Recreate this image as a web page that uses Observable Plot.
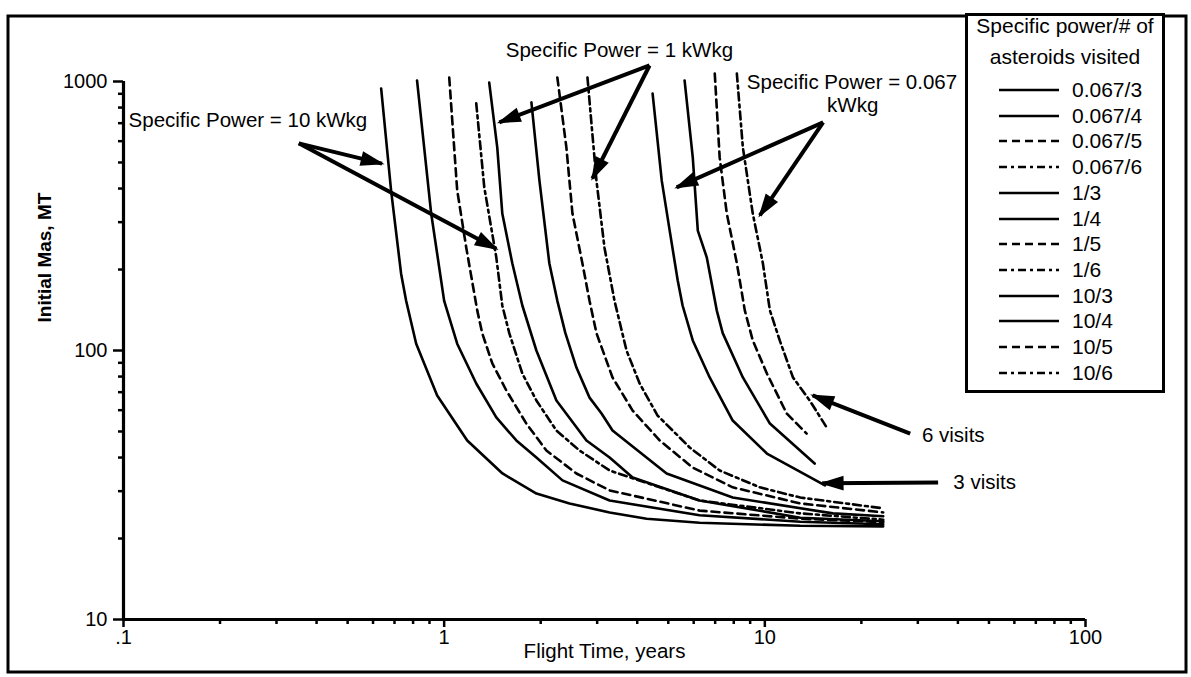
<!DOCTYPE html>
<html><head><meta charset="utf-8">
<script src="https://cdn.jsdelivr.net/npm/d3@7"></script>
<script src="https://cdn.jsdelivr.net/npm/@observablehq/plot@0.6"></script>
<style>
body{margin:0;background:#fff;font-family:"Liberation Sans",Arial,sans-serif;}
#wrap{position:relative;width:1191px;height:677px;overflow:hidden;}
#legend{position:absolute;left:965px;top:13px;width:194px;height:374px;border:3px solid #000;background:#fff;color:#000;}
#legend .title{position:absolute;left:0;width:100%;text-align:center;font-size:21px;line-height:24px;white-space:nowrap;}
#legend .row{position:absolute;left:0;width:100%;height:24px;}
#legend .row svg{position:absolute;left:30px;top:0;}
#legend .row span{position:absolute;left:104px;top:0;font-size:21px;line-height:24px;}
</style></head><body><div id="wrap"></div>
<script>
// ---- Series (flight time in years, initial mass in MT) ----
const seriesKeys = ["0.067/3","0.067/4","0.067/5","0.067/6","1/3","1/4","1/5","1/6","10/3","10/4","10/5","10/6"];

const time_10_3 = [0.636, 0.683, 0.734, 0.761, 0.818, 0.951, 1.18, 1.52, 1.94, 2.46, 3.28, 4.28, 6.26, 12.9, 23.4];
const mass_10_3 = [942, 394, 193, 153, 106, 68, 46.3, 34.9, 29.4, 27.0, 25.0, 23.7, 22.9, 22.3, 22.2];
const time_10_4 = [0.823, 0.911, 1.0, 1.098, 1.259, 1.454, 1.679, 1.939, 2.339, 3.28, 6.26, 12.9, 23.4];
const mass_10_4 = [1009, 323, 153, 106, 75.4, 56.4, 46.3, 40.0, 32.9, 27.7, 24.4, 23.1, 22.6];
const time_10_5 = [1.037, 1.098, 1.172, 1.268, 1.314, 1.413, 1.563, 1.804, 2.083, 2.585, 3.28, 6.26, 12.9, 23.4];
const mass_10_5 = [1035, 394, 241, 141, 116, 89.5, 71.0, 53.5, 42.5, 34.9, 30.2, 25.4, 23.7, 23.0];
const time_10_6 = [1.259, 1.334, 1.454, 1.518, 1.596, 1.753, 1.939, 2.239, 2.642, 3.28, 6.26, 12.9, 23.4];
const mass_10_6 = [829, 404, 222, 147, 116, 82.1, 65.2, 50.4, 42.5, 35.8, 27.7, 24.8, 23.5];
const time_1_3 = [1.382, 1.464, 1.518, 1.631, 1.753, 1.939, 2.239, 2.778, 3.28, 3.87, 6.26, 12.9, 23.4];
const mass_1_3 = [991, 569, 323, 211, 147, 100, 65.2, 46.3, 40.0, 33.7, 27.7, 23.9, 23.2];
const time_1_4 = [1.871, 1.982, 2.128, 2.254, 2.388, 2.585, 2.840, 3.096, 3.350, 4.94, 7.94, 16.3, 23.4];
const mass_1_4 = [836, 428, 211, 153, 116, 86.4, 66.8, 58.3, 50.4, 34.9, 28.4, 24.8, 24.2];
const time_1_5 = [2.254, 2.405, 2.512, 2.698, 2.840, 2.985, 3.350, 3.87, 4.70, 5.96, 7.94, 12.9, 23.4];
const mass_1_5 = [1035, 569, 323, 211, 153, 116, 79.4, 59.8, 46.3, 36.7, 31.0, 27.0, 25.0];
const time_1_6 = [2.798, 2.985, 3.162, 3.398, 3.704, 4.07, 4.63, 5.83, 7.23, 9.65, 12.9, 23.4];
const mass_1_6 = [1035, 428, 241, 153, 100, 75.4, 57.3, 43.6, 35.8, 31.0, 28.4, 25.9];
const time_067_3 = [4.467, 4.77, 5.05, 5.35, 5.54, 5.96, 6.73, 7.94, 10.15, 15.4];
const mass_067_3 = [902, 428, 279, 182, 147, 109, 79.4, 54.9, 41.4, 31.5];
const time_067_4 = [5.62, 5.96, 6.18, 6.59, 7.08, 7.39, 8.54, 10.37, 14.3];
const mass_067_4 = [1009, 522, 279, 222, 141, 116, 79.4, 53.5, 38.0];
const time_067_5 = [6.98, 7.23, 7.61, 8.18, 8.66, 9.17, 10.15, 11.7, 13.5];
const mass_067_5 = [1070, 522, 323, 211, 141, 109, 82.1, 58.3, 49.1];
const time_067_6 = [8.18, 8.54, 9.17, 9.86, 10.37, 11.13, 12.24, 13.8, 15.6];
const mass_067_6 = [1070, 569, 323, 211, 141, 109, 79.4, 65.2, 51.7];

// ---- Axis ticks ----
const xMajor = [0.1, 1, 10, 100];
const xMajorLabels = [".1", "1", "10", "100"];
const xMinor = [0.2,0.3,0.4,0.5,0.6,0.7,0.8,0.9,2,3,4,5,6,7,8,9,20,30,40,50,60,70,80,90];
const yMajor = [10, 100, 1000];
const yMajorLabels = ["10", "100", "1000"];
const yMinor = [20,30,40,50,60,70,80,90,200,300,400,500,600,700,800,900];

// ---- Annotations ----
const noteText = ["Specific Power = 10 kWkg", "Specific Power = 1 kWkg", "Specific Power = 0.067", "kWkg", "6 visits", "3 visits"];
const noteX = [0.1037, 3.52, 8.79, 18.8, 30.9, 38.7];
const noteY = [716, 1304, 996, 815, 48.3, 32.3];
const noteAnchor = ["start", "middle", "start", "middle", "start", "start"];

const arrowX1 = [0.352, 0.352, 4.37, 4.37, 15.2, 15.2, 28.4, 34.7];
const arrowY1 = [589, 589, 1147, 1147, 705, 705, 49.1, 32.3];
const arrowX2 = [0.640, 1.454, 1.486, 2.900, 5.31, 9.65, 14.1, 15.1];
const arrowY2 = [495, 239, 705, 436, 404, 318, 68.1, 32.1];

// ---- build tables ----
const curveData = {
  "10/3": [time_10_3, mass_10_3], "10/4": [time_10_4, mass_10_4], "10/5": [time_10_5, mass_10_5], "10/6": [time_10_6, mass_10_6],
  "1/3": [time_1_3, mass_1_3], "1/4": [time_1_4, mass_1_4], "1/5": [time_1_5, mass_1_5], "1/6": [time_1_6, mass_1_6],
  "0.067/3": [time_067_3, mass_067_3], "0.067/4": [time_067_4, mass_067_4], "0.067/5": [time_067_5, mass_067_5], "0.067/6": [time_067_6, mass_067_6]
};
const styleOf = k => { const v = k.split("/")[1]; return v === "5" ? "dashed" : v === "6" ? "dashdot" : "solid"; };
const dashOf = {solid: null, dashed: "8,5", dashdot: "8,4,3,4"};
const rows = [];
for (const k of seriesKeys) {
  const [t, m] = curveData[k];
  t.forEach((tv, i) => rows.push({series: k, style: styleOf(k), time: tv, mass: m[i]}));
}
const notes = noteText.map((t, i) => ({text: t, x: noteX[i], y: noteY[i], anchor: noteAnchor[i]}));
const arrows = arrowX1.map((x1, i) => ({x1, y1: arrowY1[i], x2: arrowX2[i], y2: arrowY2[i]}));
const xLab = new Map(xMajor.map((d, i) => [d, xMajorLabels[i]]));
const yLab = new Map(yMajor.map((d, i) => [d, yMajorLabels[i]]));

const lineMarks = ["solid", "dashed", "dashdot"].map(s =>
  Plot.line(rows.filter(r => r.style === s), {x: "time", y: "mass", z: "series", stroke: "#000", strokeWidth: 2.6,
    strokeDasharray: dashOf[s] ?? undefined, strokeLinejoin: "round"}));
const textMarks = ["start", "middle", "end"].map(a =>
  Plot.text(notes.filter(n => n.anchor === a), {x: "x", y: "y", text: "text", textAnchor: a, fontSize: 20.5, fill: "#000"}));

const chart = Plot.plot({
  width: 1191, height: 677,
  marginLeft: 123, marginRight: 106, marginTop: 81, marginBottom: 58,
  x: {type: "log", domain: [0.1, 100]},
  y: {type: "log", domain: [10, 1000]},
  style: {fontFamily: "'Liberation Sans', Arial, sans-serif", fontSize: "20px", color: "#000", background: "#fff", overflow: "visible"},
  marks: [
    Plot.axisX(xMinor, {tickSize: 5, tickFormat: () => "", label: null, strokeWidth: 2.5}),
    Plot.axisX(xMajor, {tickSize: 8, tickPadding: 2, tickFormat: d => xLab.get(d), label: null, strokeWidth: 2.5, fontSize: 20}),
    Plot.axisY(yMinor, {tickSize: 5, tickFormat: () => "", label: null, strokeWidth: 2.5}),
    Plot.axisY(yMajor, {tickSize: 10, tickPadding: 6, tickFormat: d => yLab.get(d), label: null, strokeWidth: 2.5, fontSize: 20}),
    Plot.ruleX([0.1], {strokeWidth: 3.2}),
    Plot.ruleY([10], {strokeWidth: 3.2}),
    ...lineMarks,
    Plot.link(arrows, {x1: "x1", y1: "y1", x2: "x2", y2: "y2", stroke: "#000", strokeWidth: 4, markerEnd: "arrow"}),
    ...textMarks,
    Plot.text(["Flight Time, years"], {frameAnchor: "bottom", dy: 38, text: d => d, fontSize: 20.5}),
    Plot.text(["Initial Mas, MT"], {frameAnchor: "left", dx: -79, dy: -28, rotate: -90, text: d => d, fontSize: 19, fontWeight: "bold"})
  ]
});

// filled arrowheads
chart.querySelectorAll("marker").forEach(m => {
  m.setAttribute("overflow", "visible");
  m.setAttribute("fill", "#000");
  m.setAttribute("stroke", "none");
  while (m.firstChild) m.removeChild(m.firstChild);
  const p = document.createElementNS("http://www.w3.org/2000/svg", "path");
  p.setAttribute("d", "M-8,-2.8L1,0L-8,2.8Z");
  m.appendChild(p);
});
// outer figure frame
const fr = document.createElementNS("http://www.w3.org/2000/svg", "rect");
fr.setAttribute("x", 8); fr.setAttribute("y", 16); fr.setAttribute("width", 1178); fr.setAttribute("height", 656);
fr.setAttribute("fill", "none"); fr.setAttribute("stroke", "#000"); fr.setAttribute("stroke-width", 3);
chart.appendChild(fr);

const wrap = document.getElementById("wrap");
wrap.appendChild(chart);

// legend
const lg = document.createElement("div");
lg.id = "legend";
const t1 = document.createElement("div"); t1.className = "title"; t1.style.top = "-2px"; t1.textContent = "Specific power/# of";
const t2 = document.createElement("div"); t2.className = "title"; t2.style.top = "29px"; t2.textContent = "asteroids visited";
lg.appendChild(t1); lg.appendChild(t2);
seriesKeys.forEach((k, i) => {
  const row = document.createElement("div");
  row.className = "row";
  row.style.top = (62 + i * 25.7) + "px";
  const dash = dashOf[styleOf(k)];
  row.innerHTML = `<svg width="62" height="24"><line x1="1" y1="12" x2="61" y2="12" stroke="#000" stroke-width="2.6" ${dash ? `stroke-dasharray="${dash}"` : ""}/></svg><span>${k}</span>`;
  lg.appendChild(row);
});
wrap.appendChild(lg);
</script></body></html>
